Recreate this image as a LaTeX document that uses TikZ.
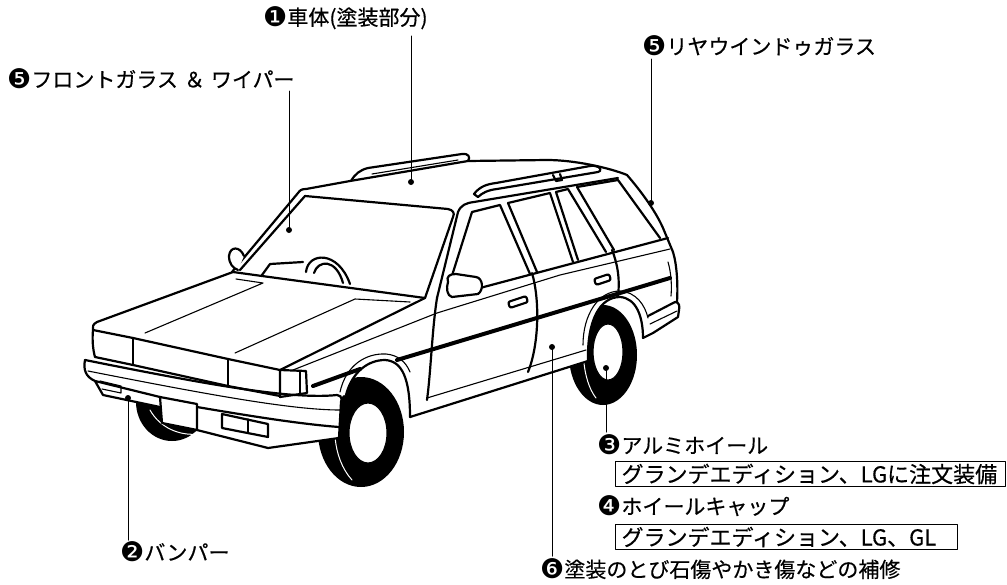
\documentclass[tikz,border=0pt]{standalone}
\usepackage{fontspec}
\newfontfamily\jpfont[FakeBold=0.4]{Noto Sans CJK JP}
\newfontfamily\dvfont{DejaVu Sans}
\newcommand\cnum[1]{\raisebox{-1.5pt}{\dvfont\fontsize{27}{27}\selectfont #1}}
\begin{document}
\begin{tikzpicture}[x=1pt,y=-1pt,line join=round,line cap=round,
  thk/.style={line width=2.2pt},
  thn/.style={line width=1.1pt},
  mold/.style={line width=4pt},
  lbl/.style={anchor=west,inner sep=0pt,font=\jpfont\fontsize{21}{21}\selectfont},
  boxlbl/.style={anchor=west,draw,line width=1.1pt,inner xsep=6pt,inner ysep=0pt,minimum height=25pt,font=\jpfont\fontsize{22}{22}\selectfont},
  leader/.style={line width=1pt},
  dotc/.style={fill,circle,inner sep=0pt,minimum size=6pt}]
\fill[white] (0,0) rectangle (1007,584);
\useasboundingbox (0,0) rectangle (1007,584);

% ---------- tyres ----------
\fill (361,432) ellipse [x radius=43pt, y radius=55pt];
\fill (603,355) ellipse [x radius=34pt, y radius=50pt];
\fill (172,402) ellipse [x radius=36pt, y radius=39pt];
\draw[white,line width=1pt] (150,410) .. controls (160,428) and (180,436) .. (198,434);

% white covers (body in front of tyres)
\fill[white] (540,300) -- (540,376) -- (588,361) .. controls (587,320) and (600,297) .. (620,297) .. controls (636,298) and (643,316) .. (643,338) -- (662,330) -- (662,290) -- cycle;
\fill[white] (330,340) -- (330,397) -- (346,395) .. controls (352,372) and (368,360) .. (385,360) .. controls (402,361) and (410,378) .. (410,417) -- (425,412) -- (425,340) -- cycle;
\fill[white] (120,340) -- (85,360) -- (88,380) -- (103,395) -- (160,407) -- (160,397) -- (197,404) -- (197,430) -- (268,448) -- (339,438) -- (341,402) -- (330,360) -- cycle;
\fill[white] (160,397) -- (197,404) -- (197,430) -- (162,423) -- cycle;

% rims
\filldraw[fill=white,thn] (368,433) ellipse [x radius=19pt, y radius=30pt];
\filldraw[fill=white,thn] (608,352) ellipse [x radius=15pt, y radius=28pt];
\draw[white,line width=1pt] (343,394) .. controls (330,418) and (332,458) .. (352,480);
\draw[white,line width=1pt] (588,322) .. controls (580,342) and (582,380) .. (596,398);

% ---------- roof, rails, glass ----------
\draw[thk] (232,272) -- (298,193) .. controls (300,190) and (302,189) .. (306,189) -- (350,181) -- (468,161) -- (547,160) .. controls (575,160) and (610,168) .. (627,175) .. controls (640,190) and (655,210) .. (663,228) -- (673,252);
\draw[thk] (351,181) .. controls (355,174) and (360,170) .. (368,168) -- (462,154) .. controls (468,153) and (471,157) .. (468,161);
\draw[thn] (372,174) -- (458,160);
\draw[thk] (474,194) .. controls (480,186) and (488,184) .. (496,183) -- (590,166) .. controls (597,165) and (602,168) .. (600,171) -- (598,172) -- (497,189) .. controls (488,190) and (482,193) .. (478,197) -- cycle;
\draw[thk] (553,175) -- (556,181) -- (562,180) -- (560,174);
% windshield
\draw[thk] (240,270) -- (305,196) -- (448,209) .. controls (453,210) and (455,213) .. (453,217) -- (425,298);
% near A pillar and roof edge
\draw[thk] (437,298) -- (458,212) .. controls (461,205) and (466,203) .. (474,202) -- (618,178);
% side glass frames
\draw[thk] (450,282) -- (472,212) -- (500,205) -- (530,274);
\draw[thk] (537,272) -- (508,203) -- (550,193) -- (573,262);
\draw[thk] (578,260) -- (556,192) -- (568,189) -- (606,252);
\draw[thk] (614,250) -- (577,187) -- (618,180) -- (660,238);
\draw[thk] (480,288) -- (668,238);
% dashboard and steering wheel
\draw[thk] (262,275) -- (270,264) -- (303,262);
\draw[thk] (306,272) .. controls (308,252) and (338,250) .. (350,284);
\draw[thk] (314,273) .. controls (318,260) and (336,258) .. (343,283);
% far mirror
\filldraw[fill=white,thk] (244,256) .. controls (240,246) and (230,246) .. (229,256) .. controls (229,264) and (233,268) .. (238,270);
% near mirror
\filldraw[fill=white,thk] (448,282) .. controls (446,276) and (450,274) .. (456,274) -- (476,277) .. controls (483,278) and (484,290) .. (478,294) -- (452,297) .. controls (447,296) and (446,288) .. (448,282);

% ---------- hood and front ----------
\draw[thk] (97,322) -- (233,272);
\draw[thk] (233,272) -- (262,276) -- (425,298);
\draw[thk] (97,322) .. controls (93,324) and (92,327) .. (93,330) -- (133,338) -- (228,359) -- (280,370) -- (425,298);
\draw[thn] (145,333) -- (263,283) -- (236,279);
\draw[thn] (235,353) -- (355,299) -- (410,302);
\draw[thk] (93,330) .. controls (92,340) and (93,350) .. (95,357) -- (133,365) -- (228,386) -- (280,396);
\draw[thk] (133,338) -- (133,365);
\draw[thk] (228,359) -- (228,386);
\draw[thk] (280,370) -- (306,371) -- (307,393) -- (280,397) -- cycle;
\draw[thn] (300,372) -- (300,394);

% ---------- bumper ----------
\draw[thk] (85,360) .. controls (200,383) and (290,400) .. (337,395) .. controls (342,396) and (342,399) .. (341,402) -- (339,438) -- (268,448) -- (197,430);
\draw[thk] (85,360) .. controls (83,370) and (86,377) .. (95,381) -- (160,397);
\draw[thk] (197,407) .. controls (250,416) and (300,424) .. (339,427);
\draw[thn] (88,371) .. controls (200,393) and (290,410) .. (340,410);
\draw[thk] (95,381) -- (103,395) -- (160,407);
\draw[thn] (100,381) -- (121,386) -- (121,393) -- (102,389);
\draw[thk] (160,397) -- (197,404) -- (197,430) -- (162,423) -- cycle;
\draw[thk] (222,414) -- (268,424) -- (268,437) -- (222,428) -- cycle;
\draw[thn] (248,419) -- (248,432);

% ---------- body side ----------
\draw[thn] (293,370) -- (437,313) -- (560,275) -- (670,249);
\draw[mold] (313,386) -- (360,369);
\draw[mold] (397,360) -- (670,278);
\draw[thk] (346,395) .. controls (352,372) and (368,360) .. (385,360) .. controls (402,361) and (410,378) .. (410,417);
\draw[thn] (340,392) .. controls (346,365) and (366,353) .. (386,354) .. controls (398,355) and (406,362) .. (410,372);
\draw[thn] (427,398) -- (586,350);
\draw[thk] (410,417) -- (588,361);
\draw[thk] (588,361) .. controls (587,320) and (600,297) .. (620,297) .. controls (636,298) and (643,316) .. (643,338);
\draw[thn] (583,345) .. controls (583,315) and (598,291) .. (620,291) .. controls (636,292) and (645,305) .. (648,318);
% doors
\draw[thk] (437,298) .. controls (432,330) and (431,370) .. (427,400);
\draw[thk] (532,273) .. controls (540,300) and (539,345) .. (528,372);
\draw[thk] (612,250) .. controls (618,265) and (620,280) .. (618,296);
\draw[thk,rounded corners=2pt] (508,302) -- (526,296) -- (528,302) -- (510,308) -- cycle;
\draw[thk,rounded corners=2pt] (594,279) -- (609,274) -- (611,280) -- (596,285) -- cycle;
% rear
\draw[thk] (673,252) .. controls (677,265) and (678,285) .. (677,302);
\draw[thn] (668,262) .. controls (671,272) and (672,285) .. (671,296);
\draw[thk] (648,316) -- (675,302) .. controls (679,302) and (680,306) .. (679,310) -- (678,317) -- (653,333) -- (643,338);
\draw[thn] (650,324) -- (677,311);

% ---------- labels and leaders ----------
\node[lbl] (t1) at (263,18) {\cnum{❶}車体(塗装部分)};
\node[lbl] (t5a) at (7,79) {\cnum{❺}フロントガラス\hspace{6pt}＆\hspace{6pt}ワイパー};
\node[lbl] (t5b) at (642,46) {\cnum{❺}リヤウインドゥガラス};
\node[lbl] (t2) at (120,552) {\cnum{❷}バンパー};
\node[lbl] (t3) at (597,445) {\cnum{❸}アルミホイール};
\node[boxlbl] (b3) at (615,474) {\makebox[378pt][l]{グランデエディション、LGに注文装備}};
\node[lbl] (t4) at (597,506) {\cnum{❹}ホイールキャップ};
\node[boxlbl] (b4) at (615,537) {\makebox[330pt][l]{グランデエディション、LG、GL}};
\node[lbl] (t6) at (540,569) {\cnum{❻}塗装のとび石傷やかき傷などの補修};

\node[dotc] (d1) at (411,182) {};
\node[dotc] (d5a) at (289,230) {};
\node[dotc] (d5b) at (651,203) {};
\node[dotc] (d2) at (128,398) {};
\node[dotc] (d3) at (606,368) {};
\node[dotc] (d6) at (552,347) {};
\coordinate (e1) at (411,36);
\coordinate (e5a) at (289,91);
\coordinate (e5b) at (651,59);
\coordinate (e2) at (128,540);
\coordinate (e3) at (606,432);
\coordinate (e6) at (552,556);
\draw[leader] (d1.center) -- (e1);
\draw[leader] (d5a.center) -- (e5a);
\draw[leader] (d5b.center) -- (e5b);
\draw[leader] (d2.center) -- (e2);
\draw[leader] (d3.center) -- (e3);
\draw[leader] (d6.center) -- (e6);
\end{tikzpicture}
\end{document}
